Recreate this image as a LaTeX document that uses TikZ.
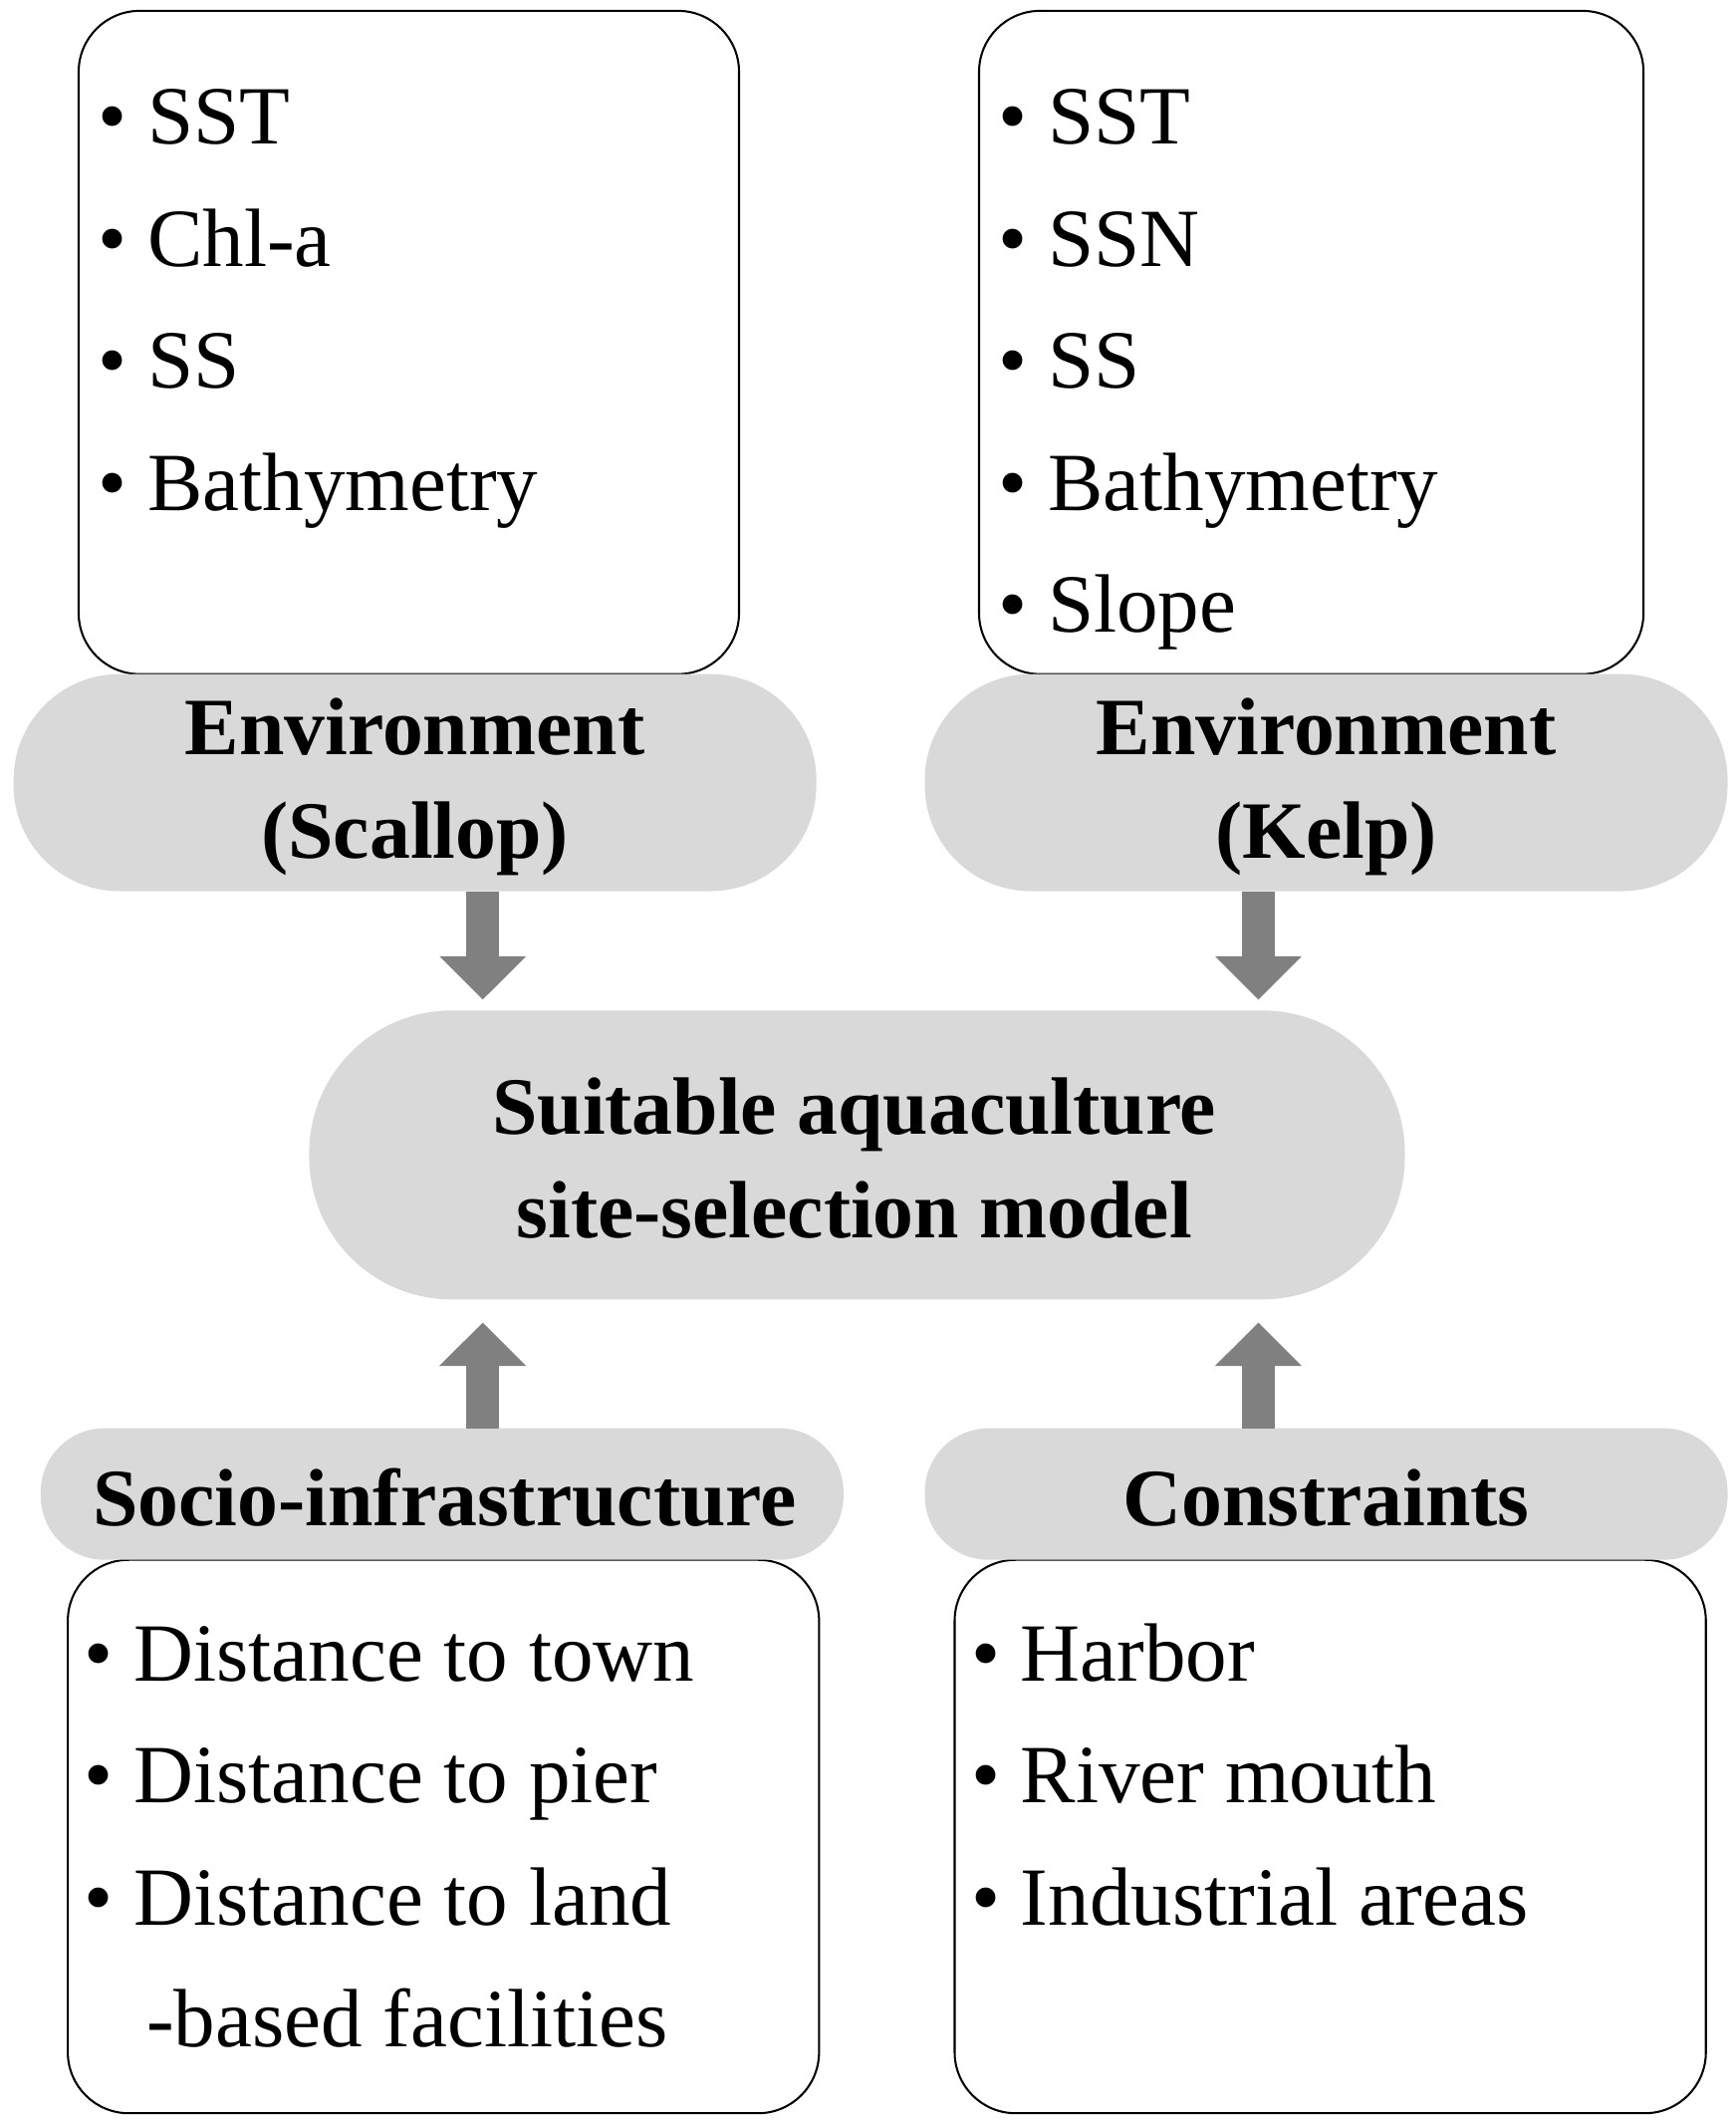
\documentclass[tikz,border=0pt]{standalone}
\usepackage{fontspec}
\setmainfont{Liberation Serif}
\usetikzlibrary{arrows.meta}
\definecolor{pill}{HTML}{D9D9D9}
\definecolor{arr}{HTML}{808080}
\begin{document}
\begin{tikzpicture}[x=1pt,y=-1pt,
  box/.style={draw=black,line width=1.5pt,rounded corners=45pt},
  item/.style={anchor=mid west,font=\fontsize{61}{70}\selectfont,inner sep=0},
  ttl/.style={align=center,font=\fontsize{60}{76}\selectfont\bfseries},
  bigarr/.style={draw=arr,-{Triangle[length=32pt,width=62pt]},line width=24pt}]
\useasboundingbox (0,0) rectangle (1280,1563);
% boxes
\draw[box] (58,8) rectangle (545,497);
\draw[box] (722,8) rectangle (1212,497);
\draw[box] (50,1150) rectangle (604,1558);
\draw[box] (704,1150) rectangle (1258,1558);
% pills
\fill[pill,rounded corners=78pt] (10,497) rectangle (602,657);
\fill[pill,rounded corners=78pt] (682,497) rectangle (1274,657);
\fill[pill,rounded corners=105pt] (228,745) rectangle (1036,958);
\fill[pill,rounded corners=47pt] (30,1053) rectangle (622,1150);
\fill[pill,rounded corners=47pt] (682,1053) rectangle (1274,1150);
\node[ttl] (envs) at (306,580) {Environment\\(Scallop)};
\node[ttl] (envk) at (978,580) {Environment\\(Kelp)};
\node[ttl] (model) at (630,854) {Suitable aquaculture\\site-selection model};
\node[ttl] (soc) at (328,1104) {Socio-infrastructure};
\node[ttl] (con) at (978,1104) {Constraints};
% arrows
\coordinate (a1s) at (356,657); \coordinate (a1e) at (356,737);
\coordinate (a2s) at (928,657); \coordinate (a2e) at (928,737);
\coordinate (a3s) at (356,1053); \coordinate (a3e) at (356,975);
\coordinate (a4s) at (928,1053); \coordinate (a4e) at (928,975);
\foreach \s/\e in {a1s/a1e,a2s/a2e,a3s/a3e,a4s/a4e}
  \draw[bigarr] (\s) -- (\e);
% items
\foreach \t [count=\i from 0] in {SST,Chl-a,SS,Bathymetry}
  \node[item] (l\i) at (72,104+90*\i) {\textbullet\ \t};
\foreach \t [count=\i from 0] in {SST,SSN,SS,Bathymetry,Slope}
  \node[item] (r\i) at (736,104+90*\i) {\textbullet\ \t};
\foreach \t [count=\i from 0] in {Distance to town,Distance to pier,Distance to land}
  \node[item] (b\i) at (62,1237+90*\i) {\textbullet\ \t};
\node[item] (b3) at (108,1507) {-based facilities};
\foreach \t [count=\i from 0] in {Harbor,River mouth,Industrial areas}
  \node[item] (c\i) at (716,1237+90*\i) {\textbullet\ \t};
\end{tikzpicture}
\end{document}
